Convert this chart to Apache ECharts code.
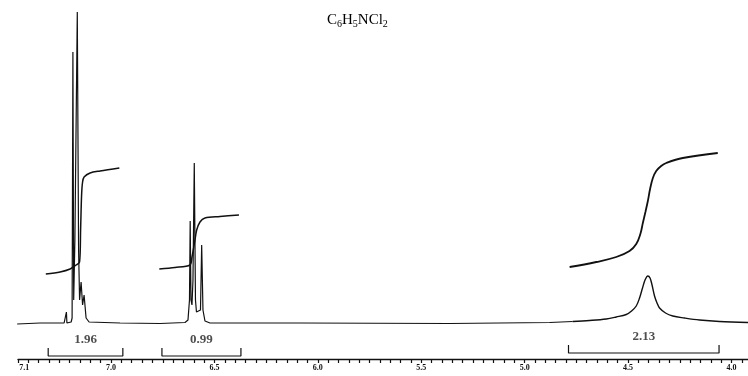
<!DOCTYPE html>
<html>
<head>
<meta charset="utf-8">
<style>
  html, body { margin: 0; padding: 0; background: #fff; }
  #chart { width: 748px; height: 376px; }
</style>
<script src="https://cdn.jsdelivr.net/npm/echarts@6/dist/echarts.min.js"></script>
</head>
<body>
<div id="chart"></div>
<script>
// 谱图数据(尖峰部分): [化学位移 ppm, 强度]
const spectrumSharp = [
  [7.454, -1], [7.343, 0], [7.227, 0],
  [7.2184, 0], [7.2159, 11], [7.2135, 0],
  [7.193, 1], [7.1884, 5], [7.1845, 271], [7.1807, 23], [7.1749, 83],
  [7.1633, 311], [7.157, 73], [7.1522, 23], [7.1449, 41], [7.1377, 18],
  [7.1304, 28], [7.1208, 5], [7.1063, 1],
  [6.9565, 0], [6.7633, -0.5], [6.6425, 0.5], [6.628, 3], [6.6208, 23],
  [6.6174, 102], [6.6135, 23], [6.6087, 18], [6.6039, 43], [6.5976, 160],
  [6.5918, 23], [6.587, 11], [6.5821, 9], [6.5676, 13], [6.5618, 78],
  [6.5556, 13], [6.5459, 2], [6.5217, 0],
  [6.087, 0], [5.3623, -0.5], [4.8792, 0.5], [4.7681, 1.5]
]

// 谱图数据(宽峰部分)
const spectrumBroad = [
  [4.7681, 1.5], [4.686, 2.5], [4.6053, 4], [4.557, 6], [4.5087, 8.5],
  [4.483, 12], [4.4604, 17], [4.4444, 25], [4.43, 35], [4.4179, 43],
  [4.4043, 47], [4.3937, 45], [4.384, 38], [4.372, 27], [4.3599, 20],
  [4.3478, 15], [4.3188, 10], [4.2836, 7], [4.2271, 5], [4.1546, 3],
  [4.058, 1.5], [3.92, 0.5]
]

// 积分曲线
const integral1 = [
  [7.3155, 49], [7.2464, 51], [7.1981, 54], [7.1691, 58], [7.1522, 61],
  [7.1473, 93], [7.1425, 128], [7.1377, 141], [7.1304, 146], [7.1014, 150],
  [7.0531, 152], [6.9599, 155]
]
const integral2 = [
  [6.7667, 54], [6.6908, 55.5], [6.6184, 58], [6.6087, 66], [6.5942, 83],
  [6.586, 93], [6.57, 101], [6.5459, 105], [6.4734, 106.5], [6.3816, 108]
]
const integral3 = [
  [4.7826, 56], [4.6536, 61], [4.557, 66], [4.4928, 72], [4.4604, 79],
  [4.4405, 89], [4.4285, 100], [4.4160, 111], [4.4043, 122], [4.3935, 134],
  [4.3800, 145], [4.3638, 152], [4.3400, 157], [4.3155, 160],
  [4.2353, 165], [4.0662, 170]
]

// 积分区间与数值
const integralRanges = [[7.304, 6.943], [6.754, 6.372], [4.788, 4.06]]
const integralValues = ['1.96', '0.99', '2.13']
const bracketLevels = [-33, -33, -30]

// 刻度标签
const tickValues = [7.42, 7.0, 6.5, 6.0, 5.5, 5.0, 4.5, 4.0]
const tickTexts = ['7.1', '7.0', '6.5', '6.0', '5.5', '5.0', '4.5', '4.0']

// 小刻度: 每 0.05 ppm 一个
const minorTicks = []
for (let k = 0; k <= 70; k++) {
  minorTicks.push(Math.round((3.95 + k * 0.05) * 100) / 100)
}

const INK = '#111'
const SERIF = '"Liberation Serif", "DejaVu Serif", serif'

const chart = echarts.init(document.getElementById('chart'))

// 积分括号
const bracketSeries = integralRanges.map((range, i) => {
  const low = bracketLevels[i]
  return {
    type: 'line',
    symbol: 'none',
    silent: true,
    lineStyle: { color: INK, width: 1.2 },
    data: [
      [range[0], low + 8], [range[0], low],
      [range[1], low], [range[1], low + 8]
    ]
  }
})

const integralLabelData = integralRanges.map((range, i) => ({
  value: [(range[0] + range[1]) / 2, bracketLevels[i] + 16],
  text: integralValues[i]
}))

const lineSeries = (name, data, width, smooth) => ({
  name: name,
  type: 'line',
  symbol: 'none',
  silent: true,
  smooth: smooth,
  lineStyle: { color: INK, width: width },
  data: data
})

const option = {
  backgroundColor: '#fff',
  animation: false,
  title: {
    text: '{n|C}{s|6}{n|H}{s|5}{n|NCl}{s|2}',
    left: 322,
    top: 7,
    textStyle: {
      rich: {
        n: { fontFamily: SERIF, fontSize: 15, fontWeight: 'normal', color: '#000' },
        s: { fontFamily: SERIF, fontSize: 10, fontWeight: 'normal', color: '#000', verticalAlign: 'bottom', padding: [7, 0, 0, 0] }
      }
    }
  },
  grid: {
    left: 18,
    right: 0,
    top: 10,
    bottom: 17
  },
  xAxis: {
    type: 'value',
    inverse: true,
    min: 3.92,
    max: 7.45,
    splitLine: { show: false },
    axisLine: { onZero: false, lineStyle: { color: INK, width: 1.3 } },
    axisTick: {
      customValues: minorTicks,
      length: 4,
      lineStyle: { color: INK, width: 1.2 }
    },
    axisLabel: {
      customValues: tickValues,
      margin: 5,
      fontFamily: SERIF,
      fontSize: 8,
      fontWeight: 'bold',
      color: INK,
      formatter: function (value) {
        const idx = tickValues.findIndex(v => Math.abs(v - value) < 0.001)
        return idx >= 0 ? tickTexts[idx] : ''
      }
    }
  },
  yAxis: {
    type: 'value',
    show: false,
    min: -36,
    max: 313
  },
  series: [
    lineSeries('spectrumSharp', spectrumSharp, 1.2, false),
    lineSeries('spectrumBroad', spectrumBroad, 1.4, 0.35),
    lineSeries('integral1', integral1, 1.5, 0.3),
    lineSeries('integral2', integral2, 1.5, 0.3),
    lineSeries('integral3', integral3, 1.8, 0.4),
    ...bracketSeries,
    {
      name: 'integralLabels',
      type: 'scatter',
      symbolSize: 0,
      silent: true,
      label: {
        show: true,
        position: 'inside',
        fontFamily: SERIF,
        fontSize: 13,
        fontWeight: 'bold',
        color: '#222',
        textBorderWidth: 0,
        formatter: function (p) { return p.data.text }
      },
      data: integralLabelData
    }
  ]
}

chart.setOption(option)
</script>
</body>
</html>
